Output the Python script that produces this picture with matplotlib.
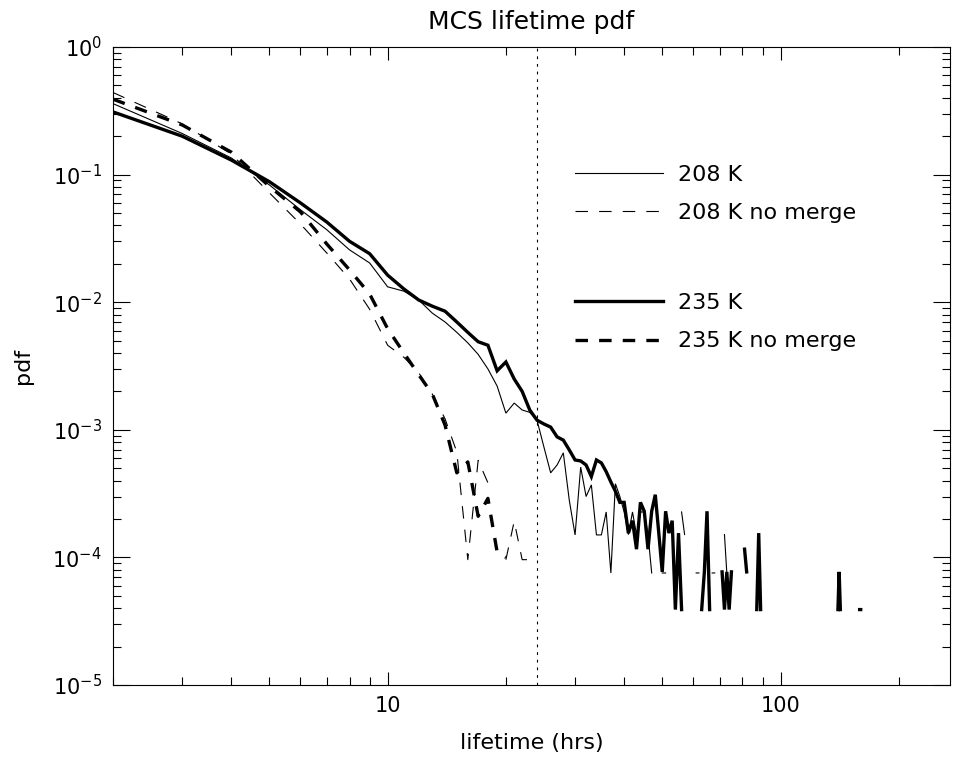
import numpy as np
import matplotlib
matplotlib.use("Agg")
import matplotlib.pyplot as plt
from matplotlib.lines import Line2D
from matplotlib.ticker import FuncFormatter, NullFormatter, LogLocator

# ====================================================
# DATA  (pdf per lifetime hour, nan = no systems)
# ====================================================

nan = np.nan

hours_208 = list(range(2, 74))
pdf_208 = [0.36, 0.21, 0.135, 0.083, 0.053, 0.037, 0.0257, 0.0203, 0.0132, 0.0122,
           0.0104, 0.0082, 0.0070, 0.0058, 0.0048, 0.0039, 0.0030, 0.0022, 0.00135, 0.00162,
           0.00143, 0.00137, 0.00119, 7.3e-4, 4.6e-4, 5.3e-4, 6.6e-4, 2.8e-4, 1.5e-4, 5.1e-4,
           3.0e-4, 3.7e-4, 1.5e-4, 1.5e-4, 2.27e-4, 7.55e-5, 3.78e-4, 3.0e-4, 2.27e-4, 1.51e-4,
           2.27e-4, 1.51e-4, 2.27e-4, 2.27e-4, 1.51e-4, 7.55e-5, nan, nan, 7.55e-5, 7.55e-5,
           nan, nan, nan, nan, 2.27e-4, 1.51e-4, nan, nan, nan, 7.55e-5,
           7.55e-5, nan, nan, nan, nan, 7.55e-5, 7.55e-5, nan, nan, nan,
           1.51e-4, 7.55e-5]

hours_208_nm = list(range(2, 24))
pdf_208_nm = [0.44, 0.25, 0.145, 0.072, 0.041, 0.0243, 0.0152, 0.0088, 0.0046, 0.0037,
              0.0028, 0.0019, 0.00122, 6.7e-4, 9.6e-5, 5.76e-4, 3.84e-4, nan, 9.6e-5, 1.92e-4,
              9.6e-5, 9.6e-5]

hours_235 = list(range(2, 91)) + [139, 140, 141, 142, 143, 158, 159, 160]
pdf_235 = [0.31, 0.20, 0.13, 0.088, 0.060, 0.0425, 0.030, 0.024, 0.0163, 0.0127,
           0.0104, 0.0093, 0.0085, 0.0070, 0.0058, 0.0049, 0.0046, 0.0029, 0.0034, 0.0025,
           0.0020, 0.00143, 0.00119, 0.00111, 0.00105, 8.8e-4, 8.3e-4, 6.95e-4, 5.8e-4, 5.7e-4,
           5.3e-4, 4.3e-4, 5.8e-4, 5.5e-4, 4.7e-4, 3.9e-4, 3.3e-4, 2.7e-4, 2.7e-4, 1.55e-4,
           1.94e-4, 1.16e-4, 2.7e-4, 2.3e-4, 1.16e-4, 2.3e-4, 3.1e-4, 1.55e-4, 7.7e-5, 2.3e-4,
           1.55e-4, 1.94e-4, 3.9e-5, 1.55e-4, 3.9e-5, nan, nan, nan, nan, nan,
           nan, 3.9e-5, 7.7e-5, 2.3e-4, 3.9e-5, nan, nan, nan, nan, 7.7e-5,
           3.9e-5, 7.7e-5, 3.9e-5, 7.7e-5, nan, nan, nan, nan, nan, 1.16e-4,
           7.7e-5, nan, nan, nan, nan, 3.9e-5, 1.55e-4, 3.9e-5, nan,
           nan, 3.9e-5, 7.7e-5, 3.9e-5, nan, nan, 3.9e-5, 3.9e-5]

hours_235_nm = list(range(2, 21))
pdf_235_nm = [0.39, 0.245, 0.15, 0.081, 0.051, 0.0286, 0.0179, 0.0116, 0.0062, 0.0040,
              0.0027, 0.0019, 0.00109, 4.6e-4, 5.6e-4, 2.1e-4, 2.9e-4, 1.1e-4, 1.0e-4]

cutoff_hours = 24

labels_top = ["208 K", "208 K no merge"]
labels_bottom = ["235 K", "235 K no merge"]

# ====================================================
# STYLE
# ====================================================

plt.rcParams["font.family"] = "DejaVu Sans"
plt.rcParams["mathtext.default"] = "regular"
plt.rcParams["lines.scale_dashes"] = False
plt.rcParams["lines.solid_joinstyle"] = "miter"

THIN = 0.8
THICK = 2.4
DASH = (0, (9, 8))
FS = 16

fig = plt.figure(figsize=(9.66, 7.6), dpi=100)
ax = fig.add_axes([113 / 966, 75 / 760, 837 / 966, 638 / 760])

ax.plot(hours_208, pdf_208, color="black", lw=THIN)
ax.plot(hours_208_nm, pdf_208_nm, color="black", lw=THIN, ls=DASH)
ax.plot(hours_235, pdf_235, color="black", lw=THICK)
ax.plot(hours_235_nm, pdf_235_nm, color="black", lw=THICK, ls=DASH)

ax.axvline(cutoff_hours, color="black", lw=0.8, ls=(0, (2, 3.5)))

ax.set_xscale("log")
ax.set_yscale("log")
ax.set_xlim(2, 270)
ax.set_ylim(1e-5, 1)

ax.xaxis.set_major_locator(LogLocator(base=10))
ax.xaxis.set_major_formatter(FuncFormatter(lambda v, p: f"{v:g}"))
ax.xaxis.set_minor_locator(LogLocator(base=10, subs=np.arange(2, 10)))
ax.xaxis.set_minor_formatter(NullFormatter())
ax.yaxis.set_major_locator(LogLocator(base=10, numticks=10))
ax.yaxis.set_minor_locator(LogLocator(base=10, subs=np.arange(2, 10), numticks=10))
ax.yaxis.set_minor_formatter(NullFormatter())

ax.tick_params(which="both", direction="in", top=True, right=True, width=0.8,
               labelsize=15, pad=8)
ax.tick_params(axis="x", which="major", length=9.5)
ax.tick_params(axis="y", which="major", length=12)
ax.tick_params(which="minor", length=5.5)
for s in ax.spines.values():
    s.set_linewidth(0.8)

ax.set_title("MCS lifetime pdf", fontsize=18, pad=13)
ax.set_xlabel("lifetime (hrs)", fontsize=FS, labelpad=12)
ax.set_ylabel("pdf", fontsize=FS, labelpad=14)

# ====================================================
# LEGEND
# ====================================================

h_top = [Line2D([], [], color="black", lw=THIN),
         Line2D([], [], color="black", lw=THIN, ls=DASH)]
h_bot = [Line2D([], [], color="black", lw=THICK),
         Line2D([], [], color="black", lw=THICK, ls=DASH)]

leg_kw = dict(loc="upper left", frameon=False, fontsize=FS, handlelength=3.95,
              handletextpad=0.7, borderpad=0, borderaxespad=0, labelspacing=0.82)

leg1 = ax.legend(h_top, labels_top, bbox_to_anchor=(0.552, 0.815), **leg_kw)
ax.add_artist(leg1)
ax.legend(h_bot, labels_bottom, bbox_to_anchor=(0.552, 0.614), **leg_kw)

fig.savefig("out.png", dpi=100, facecolor="white")
